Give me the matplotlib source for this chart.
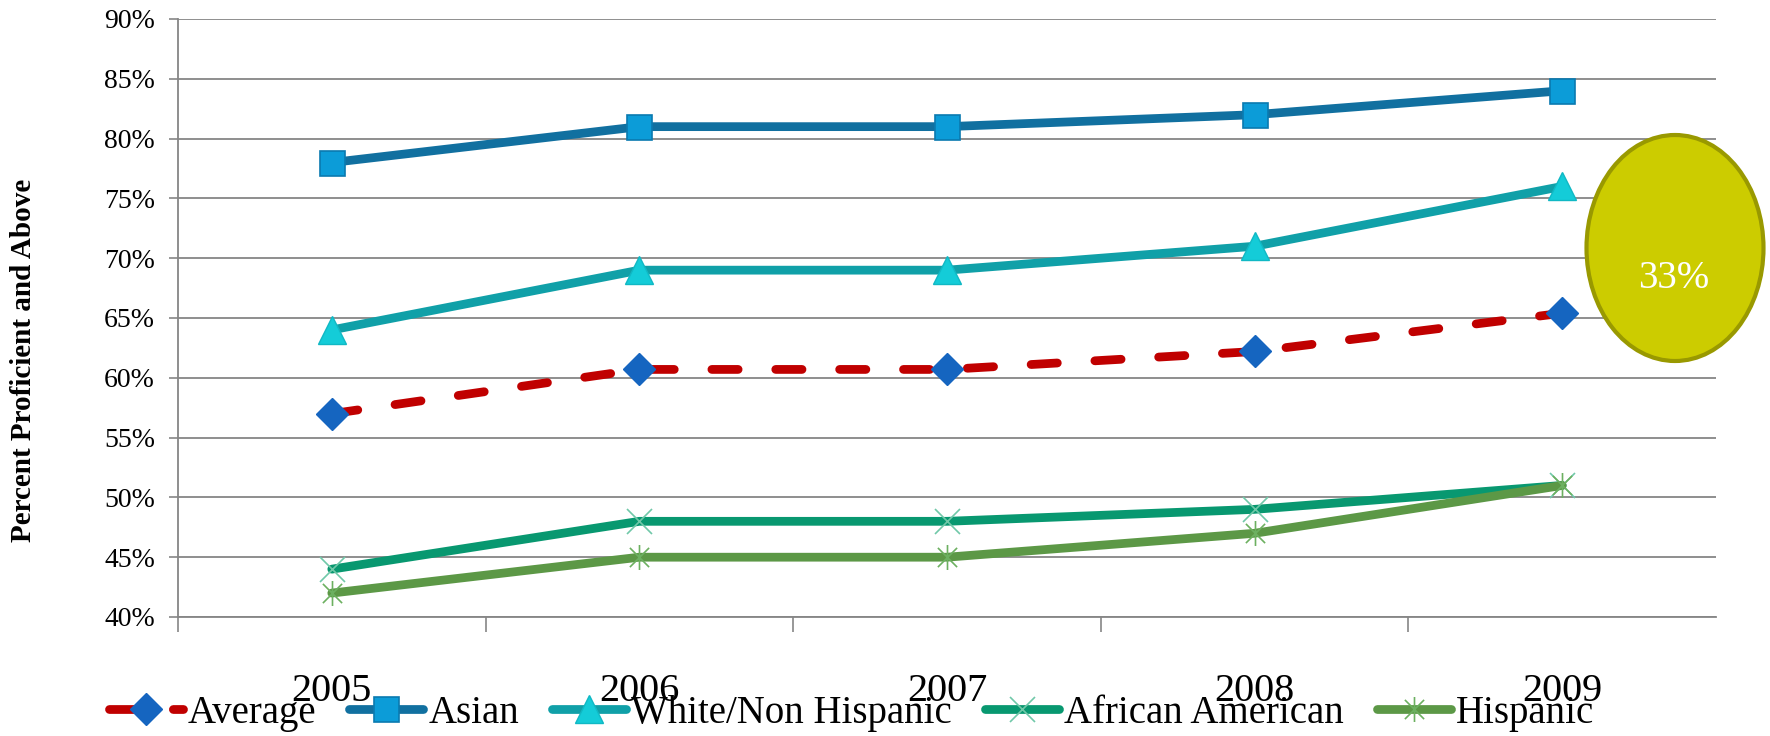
import matplotlib
matplotlib.use("Agg")
import matplotlib.pyplot as plt
from matplotlib.patches import Ellipse
from matplotlib.path import Path

years = ["2005", "2006", "2007", "2008", "2009"]
average = [57.0, 60.7, 60.7, 62.2, 65.4]
asian = [78, 81, 81, 82, 84]
white = [64, 69, 69, 71, 76]
african = [44, 48, 48, 49, 51]
hispanic = [42, 45, 45, 47, 51]
y_ticks = [40, 45, 50, 55, 60, 65, 70, 75, 80, 85, 90]
gap_label = "33%"

plt.rcParams['font.family'] = ['Liberation Serif', 'DejaVu Serif']

fig = plt.figure(figsize=(17.7, 7.36), dpi=100)
ax = fig.add_axes([178 / 1770, 1 - 617 / 736, (1716 - 178) / 1770, (617 - 19) / 736])

x = list(range(len(years)))
lw = 6.3

# excel style star: x plus vertical bar
star = Path([(-1, -1), (1, 1), (-1, 1), (1, -1), (0, -1.3), (0, 1.3)],
            [Path.MOVETO, Path.LINETO, Path.MOVETO, Path.LINETO, Path.MOVETO, Path.LINETO])

ax.plot(x, average, color='#C00000', lw=lw, linestyle=(0, (3.0, 4.3)),
        dash_capstyle='round', marker='D', ms=16, mfc='#1565C0', mec='#1565C0',
        label='Average', zorder=3)
ax.plot(x, asian, color='#1170A0', lw=lw, solid_capstyle='round', marker='s', ms=18,
        mfc='#0C9CD8', mec='#0A7AB0', mew=1.2, label='Asian', zorder=3)
ax.plot(x, white, color='#10A0A8', lw=lw, solid_capstyle='round', marker='^', ms=20,
        mfc='#14CCD8', mec='#10B8C4', mew=1, label='White/Non Hispanic', zorder=3)
ax.plot(x, african, color='#089870', lw=lw, solid_capstyle='round', marker='x', ms=18,
        mec='#70C8A8', mew=1.2, label='African American', zorder=3)
ax.plot(x, hispanic, color='#5C9846', lw=lw, solid_capstyle='round', marker=star, ms=18,
        mec='#6CB060', mew=1.2, label='Hispanic', zorder=3)

ax.set_xlim(-0.5, len(years) - 0.5)
ax.set_ylim(40, 90)
ax.set_yticks(y_ticks)
ax.set_yticklabels([f"{v}%" for v in y_ticks], fontsize=20)
ax.set_xticks(x)
ax.set_xticklabels(years, fontsize=29)
ax.set_xticks([i - 0.5 for i in x], minor=True)
ax.tick_params(axis='x', which='major', length=0, pad=40)
ax.tick_params(axis='x', which='minor', length=11, width=1.2, color='#868686')
ax.tick_params(axis='y', length=6.5, width=1.2, color='#868686', pad=10)

ax.grid(axis='y', color='#868686', lw=1.3)
ax.set_axisbelow(True)
for side in ['top', 'right']:
    ax.spines[side].set_visible(False)
for side in ['left', 'bottom']:
    ax.spines[side].set_color('#868686')
    ax.spines[side].set_linewidth(1.3)

fig.text(24 / 1770, 1 - 360 / 736, "Percent Proficient and Above", rotation=90,
         fontsize=21, fontweight='bold', ha='center', va='center')

fig.legend(loc='center', bbox_to_anchor=(0.481, 0.031), ncol=5, frameon=False,
           fontsize=28, handlelength=1.9, handletextpad=0.13, columnspacing=0.85,
           borderpad=0, borderaxespad=0)

ell = Ellipse((1675 / 1770, 1 - 248 / 736), 177 / 1770, 226 / 736,
              transform=fig.transFigure, facecolor='#CCCC00', edgecolor='#999900',
              lw=3, zorder=5)
fig.add_artist(ell)
fig.text(1674 / 1770, 1 - 278 / 736, gap_label, color='white', fontsize=28,
         ha='center', va='center', zorder=6)

fig.savefig('out.png', dpi=100)
